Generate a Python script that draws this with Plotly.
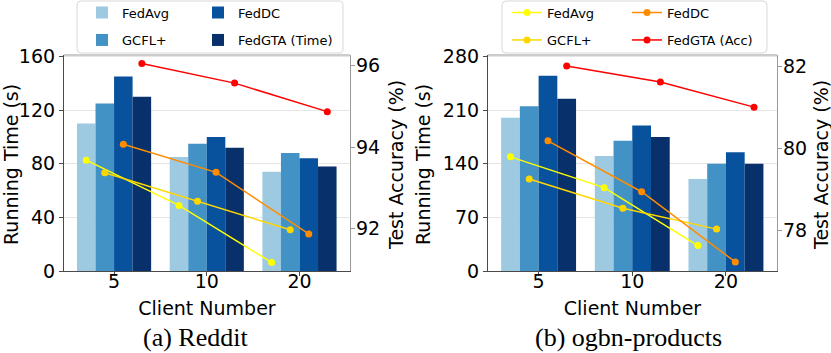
import plotly.graph_objects as go
from plotly.subplots import make_subplots

W, H = 831, 353

clients = ["5", "10", "20"]
x_idx = [0, 1, 2]

# Reddit - running time (s)
reddit_time_fedavg = [110, 85, 74]
reddit_time_gcfl = [125, 95, 88]
reddit_time_feddc = [145, 100, 84]
reddit_time_fedgta = [130, 92, 78]

# Reddit - test accuracy (%)
reddit_acc_fedavg = [93.68, 92.57, 91.17]
reddit_acc_gcfl = [93.37, 92.67, 91.97]
reddit_acc_feddc = [94.07, 93.38, 91.87]
reddit_acc_fedgta = [96.05, 95.57, 94.87]

# ogbn-products - running time (s)
products_time_fedavg = [200, 150, 120]
products_time_gcfl = [215, 170, 140]
products_time_feddc = [255, 190, 155]
products_time_fedgta = [225, 175, 140]

# ogbn-products - test accuracy (%)
products_acc_fedavg = [79.79, 79.04, 77.63]
products_acc_gcfl = [79.25, 78.54, 78.03]
products_acc_feddc = [80.18, 78.94, 77.23]
products_acc_fedgta = [82.0, 81.61, 81.0]

bar_colors = ["#9ecae1", "#4292c6", "#08519c", "#08306b"]
line_colors = ["#ffff00", "#ffd700", "#ff8c00", "#ff0000"]
bar_names = ["FedAvg", "GCFL+", "FedDC", "FedGTA (Time)"]
line_names = ["FedAvg", "GCFL+", "FedDC", "FedGTA (Acc)"]
offsets = [-0.3, -0.1, 0.1, 0.3]

FONT = "DejaVu Sans"


def px_x(v):
    return v / W


def px_y(v):
    return 1 - v / H


fig = make_subplots(rows=1, cols=2, specs=[[{"secondary_y": True}, {"secondary_y": True}]])

# one legend per entry so the 2x2 grid lines up like the original
# (column-major: FedAvg/GCFL+ left column, FedDC/FedGTA right column)
bar_legends = ["legend", "legend2", "legend3", "legend4"]
line_legends = ["legend5", "legend6", "legend7", "legend8"]

panels = [
    (1, [reddit_time_fedavg, reddit_time_gcfl, reddit_time_feddc, reddit_time_fedgta],
     [reddit_acc_fedavg, reddit_acc_gcfl, reddit_acc_feddc, reddit_acc_fedgta], True),
    (2, [products_time_fedavg, products_time_gcfl, products_time_feddc, products_time_fedgta],
     [products_acc_fedavg, products_acc_gcfl, products_acc_feddc, products_acc_fedgta], False),
]

for col, times, accs, bar_legend in panels:
    for i, vals in enumerate(times):
        fig.add_trace(
            go.Bar(x=x_idx, y=vals, name=bar_names[i], marker_color=bar_colors[i],
                   marker_line_width=0, showlegend=bar_legend, legend=bar_legends[i]),
            row=1, col=col, secondary_y=False,
        )
    for i, vals in enumerate(accs):
        fig.add_trace(
            go.Scatter(x=[p + offsets[i] for p in x_idx], y=vals, name=line_names[i],
                       mode="lines+markers", line=dict(color=line_colors[i], width=1.5),
                       marker=dict(color=line_colors[i], size=7),
                       showlegend=not bar_legend, legend=line_legends[i]),
            row=1, col=col, secondary_y=True,
        )

ydom = [px_y(271), px_y(55)]
tickfont = dict(family=FONT, size=19, color="black")
titlefont = dict(family=FONT, size=19, color="black")
DARK = "#4a4a4a"
LIGHT = "#9a9a9a"

common_x = dict(range=[-0.54, 2.545], tickvals=x_idx, ticktext=clients, tickfont=tickfont,
                showline=True, linecolor=DARK, linewidth=1.2, ticks="outside", ticklen=4,
                tickcolor=DARK, showgrid=False, zeroline=False, automargin=False,
                ticklabelstandoff=-11,
                title=dict(text="Client Number", font=titlefont, standoff=10))
fig.update_layout(
    xaxis=dict(domain=[px_x(64), px_x(350)], **common_x),
    xaxis2=dict(domain=[px_x(488), px_x(777)], **common_x),
    yaxis=dict(domain=ydom, range=[0, 161.1], tickvals=[0, 40, 80, 120, 160]),
    yaxis2=dict(range=[90.96, 96.26], tickvals=[92, 94, 96]),
    yaxis3=dict(domain=ydom, range=[0, 282], tickvals=[0, 70, 140, 210, 280]),
    yaxis4=dict(range=[77.01, 82.27], tickvals=[78, 80, 82]),
)
for ax in ["yaxis", "yaxis3"]:
    fig.layout[ax].update(tickfont=tickfont, showline=True, linecolor=DARK, linewidth=1.2,
                          ticks="outside", ticklen=4, tickcolor=DARK, showgrid=True,
                          gridcolor="#e6e6e6", gridwidth=1, zeroline=False, automargin=False)
for ax in ["yaxis2", "yaxis4"]:
    fig.layout[ax].update(tickfont=tickfont, showline=True, linecolor=LIGHT, linewidth=1.2,
                          ticks="outside", ticklen=4, tickcolor=LIGHT, showgrid=False,
                          zeroline=False, automargin=False, ticklabelstandoff=-3)

legfont = dict(family=FONT, size=13, color="black")
legbase = dict(orientation="h", xanchor="left", yanchor="middle", font=legfont,
               bgcolor="rgba(0,0,0,0)", borderwidth=0, itemclick=False)
row1_y = px_y(12.5)
row2_y = px_y(40)
fig.update_layout(
    legend=dict(x=px_x(82), y=row1_y, **legbase),
    legend2=dict(x=px_x(82), y=row2_y, **legbase),
    legend3=dict(x=px_x(198), y=row1_y, **legbase),
    legend4=dict(x=px_x(198), y=row2_y, **legbase),
    legend5=dict(x=px_x(507), y=row1_y, **legbase),
    legend6=dict(x=px_x(507), y=row2_y, **legbase),
    legend7=dict(x=px_x(627), y=row1_y, **legbase),
    legend8=dict(x=px_x(627), y=row2_y, **legbase),
)


def rounded_box(x0, y0, x1, y1, r=4):
    pts = [
        ("M", x0 + r, y0), ("L", x1 - r, y0), ("Q", x1, y0, x1, y0 + r),
        ("L", x1, y1 - r), ("Q", x1, y1, x1 - r, y1), ("L", x0 + r, y1),
        ("Q", x0, y1, x0, y1 - r), ("L", x0, y0 + r), ("Q", x0, y0, x0 + r, y0),
    ]
    out = []
    for p in pts:
        cmd, coords = p[0], p[1:]
        xy = []
        for k in range(0, len(coords), 2):
            xy.append(f"{px_x(coords[k]):.5f},{px_y(coords[k + 1]):.5f}")
        out.append(cmd + " ".join(xy))
    return " ".join(out) + " Z"


shapes = [
    dict(type="path", xref="paper", yref="paper", path=rounded_box(77, 1, 343, 53),
         line=dict(color="#d8d8d8", width=1), fillcolor="rgba(255,255,255,0.8)", layer="below"),
    dict(type="path", xref="paper", yref="paper", path=rounded_box(502, 1, 767, 53),
         line=dict(color="#d8d8d8", width=1), fillcolor="rgba(255,255,255,0.8)", layer="below"),
    # top spines
    dict(type="line", xref="paper", yref="paper", x0=px_x(64), x1=px_x(350), y0=ydom[1], y1=ydom[1],
         line=dict(color=LIGHT, width=1.2)),
    dict(type="line", xref="paper", yref="paper", x0=px_x(488), x1=px_x(777), y0=ydom[1], y1=ydom[1],
         line=dict(color=LIGHT, width=1.2)),
]

ymid = px_y(165)
annotations = [
    dict(text="Running Time (s)", x=px_x(11), y=ymid, textangle=-90),
    dict(text="Test Accuracy (%)", x=px_x(396), y=ymid, textangle=-90),
    dict(text="Running Time (s)", x=px_x(423), y=ymid, textangle=-90),
    dict(text="Test Accuracy (%)", x=px_x(821), y=ymid, textangle=-90),
]
for a in annotations:
    a.update(font=titlefont)
annotations += [
    dict(text="(a) Reddit", x=px_x(195), y=px_y(337),
         font=dict(family="Liberation Serif", size=26, color="black")),
    dict(text="(b) ogbn-products", x=px_x(628), y=px_y(337),
         font=dict(family="Liberation Serif", size=26, color="black")),
]
for a in annotations:
    a.update(xref="paper", yref="paper", showarrow=False, xanchor="center", yanchor="middle")

fig.update_layout(
    width=W, height=H, margin=dict(l=0, r=0, t=0, b=0, autoexpand=False),
    template="none", plot_bgcolor="white", paper_bgcolor="white",
    barmode="group", bargap=0.2, bargroupgap=0,
    shapes=shapes, annotations=annotations, font=dict(family=FONT),
)

# the page's default 8px body margin would shift the whole figure
fig.write_html("out.html", config={"displayModeBar": False},
               post_script="document.body.style.margin='0px';")
